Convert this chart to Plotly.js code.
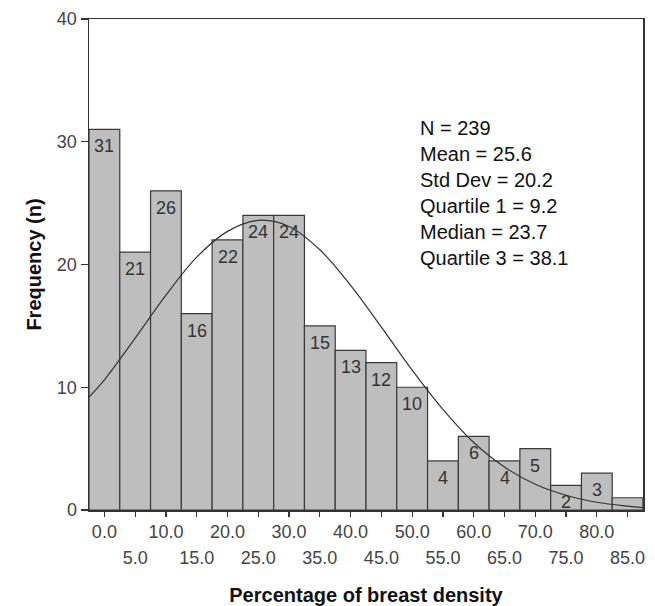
<!DOCTYPE html>
<html><head><meta charset="utf-8">
<script src="https://cdn.plot.ly/plotly-3.0.1.min.js"></script>
<style>body{margin:0;background:#fff}#chart{width:655px;height:606px}</style>
</head><body><div id="chart"></div>
<script>
const binCenters = [0,5,10,15,20,25,30,35,40,45,50,55,60,65,70,75,80,85];
const frequencies = [31,21,26,16,22,24,24,15,13,12,10,4,6,4,5,2,3,1];
const barLabels = ['31','21','26','16','22','24','24','15','13','12','10','4','6','4','5','2','3',''];
const tickLabels = ['0.0','5.0','10.0','15.0','20.0','25.0','30.0','35.0','40.0','45.0','50.0','55.0','60.0','65.0','70.0','75.0','80.0','85.0'];
const curveX = [-2.5,0,5,10,15,20,25,30,35,40,45,50,55,60,65,70,75,80,85,87.5];
const curveY = [9.2,10.6,14.0,17.5,20.6,22.7,23.6,23.1,21.2,18.3,14.9,11.4,8.2,5.5,3.5,2.1,1.2,0.63,0.31,0.2];
const yTicks = [0,10,20,30,40];
const statsLines = ['N = 239','Mean = 25.6','Std Dev = 20.2','Quartile 1 = 9.2','Median = 23.7','Quartile 3 = 38.1'];

const FONT = 'Liberation Sans, Arial, sans-serif';
const xr = [-2.5, 87.5];

const upperRow = tickLabels.map((t,i)=> i%2===0 ? t : '');
const lowerRow = tickLabels.map((t,i)=> i%2===1 ? t : '');

const traces = [
  {type:'bar', x:binCenters, y:frequencies, width:5,
   marker:{color:'#bebebe', line:{color:'#3a3a3a', width:1.2}}, hoverinfo:'skip'},
  {type:'scatter', mode:'lines', x:curveX, y:curveY, line:{color:'#333', width:1.2, shape:'spline'}, hoverinfo:'skip'},
  {type:'scatter', mode:'markers', x:binCenters, y:frequencies, xaxis:'x2', marker:{opacity:0}, hoverinfo:'skip'}
];

const barAnnotations = binCenters.map((x,i)=>({
  x:x, y:frequencies[i], xref:'x', yref:'y', text:barLabels[i], showarrow:false,
  xanchor:'center', yanchor:'top', yshift:-5,
  font:{family:FONT, size:18, color:'#333'}
}));

const layout = {
  width:655, height:606,
  margin:{l:89, r:12, t:19, b:96},
  paper_bgcolor:'#fff', plot_bgcolor:'#fff',
  showlegend:false,
  bargap:0,
  font:{family:FONT, color:'#333'},
  xaxis:{range:xr, tickmode:'array', tickvals:binCenters, ticktext:upperRow,
    ticks:'outside', ticklen:5, tickwidth:1.2, tickcolor:'#333',
    showline:true, linecolor:'#333', linewidth:1.5, mirror:true,
    showgrid:false, zeroline:false, tickfont:{size:18, color:'#444'}},
  xaxis2:{range:xr, overlaying:'x', side:'bottom', anchor:'y', tickmode:'array', tickvals:binCenters, ticktext:lowerRow,
    ticks:'', showline:false, showgrid:false, zeroline:false, ticklabelstandoff:35,
    tickfont:{size:18, color:'#444'},
    title:{text:'Percentage of breast density', font:{size:20, color:'#111', family:FONT, weight:'bold'}, standoff:21}},
  yaxis:{range:[0,40], tickmode:'array', tickvals:yTicks, ticktext:yTicks.map(String),
    ticks:'outside', ticklen:7, tickwidth:1.2, tickcolor:'#333',
    showline:true, linecolor:'#333', linewidth:1.5, mirror:true,
    showgrid:false, zeroline:false, tickfont:{size:18, color:'#444'},
    title:{text:'Frequency (n)', font:{size:20, color:'#111', family:FONT, weight:'bold'}, standoff:10}},
  annotations:barAnnotations.concat([{xref:'paper', yref:'paper', x:0.594, y:0.805, xanchor:'left', yanchor:'top', align:'left',
    showarrow:false, text:statsLines.join('<br>'), font:{size:20, color:'#111', family:FONT}}])
};

Plotly.newPlot('chart', traces, layout, {staticPlot:true, displayModeBar:false});
</script></body></html>
